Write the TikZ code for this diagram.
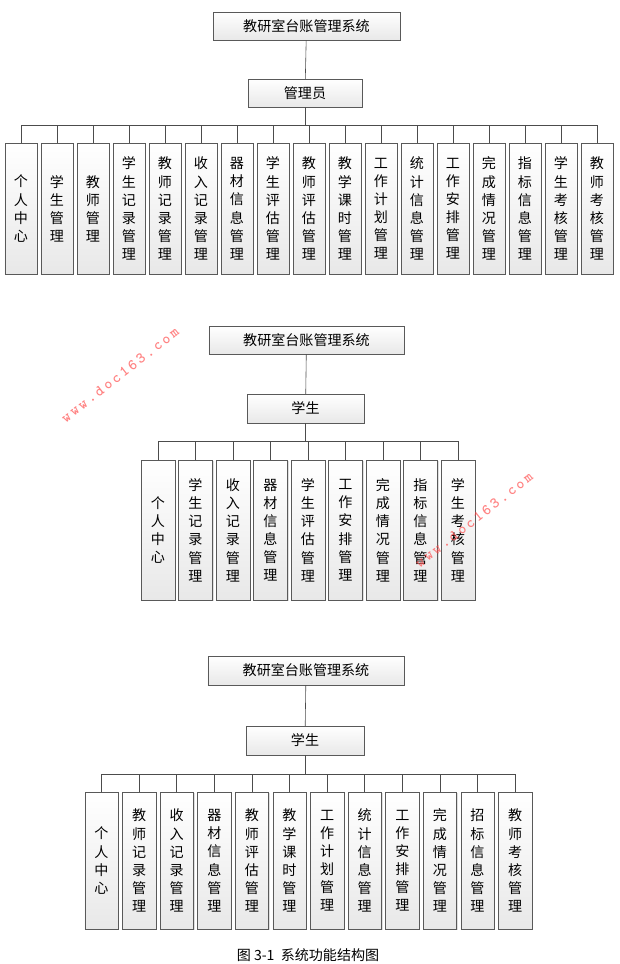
\documentclass[tikz,border=0pt]{standalone}
\usepackage{fontspec}
\setmainfont{Noto Sans CJK SC}
\usetikzlibrary{positioning}
\usetikzlibrary{shadows}

\tikzset{
  box/.style={draw=gray!70!black, top color=white, bottom color=gray!18, drop shadow={opacity=0.25,shadow xshift=1pt,shadow yshift=-1pt}, inner sep=0pt, font=\fontsize{12}{15.5}\selectfont},
  leaf/.style={box, minimum width=0.99cm, align=center, anchor=north},
  link/.style={draw=gray!60!black, line width=0.5pt},
  mark text/.style={red!75, opacity=0.65, rotate=38, font=\fontsize{13}{15}\ttfamily\bfseries}
}

\begin{document}
\begin{tikzpicture}[x=0.03cm,y=-0.03cm]
\useasboundingbox[fill=white] (0,0) rectangle (619,964);

% first tree
{
\node[box, minimum width=5.6cm, minimum height=0.84cm] (sys1) at (306.5,26) {教研室台账管理系统};
\node[box, minimum width=3.42cm, minimum height=0.84cm] (adm) at (305,93) {管理员};
\draw[link] (sys1) -- (adm);
\foreach \t [count=\i] in {个\\人\\中\\心, 学\\生\\管\\理, 教\\师\\管\\理, 学\\生\\记\\录\\管\\理, 教\\师\\记\\录\\管\\理, 收\\入\\记\\录\\管\\理, 器\\材\\信\\息\\管\\理, 学\\生\\评\\估\\管\\理, 教\\师\\评\\估\\管\\理, 教\\学\\课\\时\\管\\理, 工\\作\\计\\划\\管\\理, 统\\计\\信\\息\\管\\理, 工\\作\\安\\排\\管\\理, 完\\成\\情\\况\\管\\理, 指\\标\\信\\息\\管\\理, 学\\生\\考\\核\\管\\理, 教\\师\\考\\核\\管\\理}
{
  \node[leaf, minimum height=3.93cm, minimum width=0.96cm] (a\i) at ({21+36*(\i-1)},143) {\t};
  \draw[link] (a\i.north) -- ++(0,-18);
}
\draw[link] (adm.south) -- ++(0,18);
\draw[link] ([yshift=0.54cm]a1.north) -- ([yshift=0.54cm]a17.north);
}

% second tree
{
\node[box, minimum width=5.85cm, minimum height=0.84cm] (sys2) at (306.5,340) {教研室台账管理系统};
\node[box, minimum width=3.51cm, minimum height=0.87cm] (stu2) at (305.5,408.5) {学生};
\draw[link] (sys2) -- (stu2);
\foreach \t [count=\i] in {个\\人\\中\\心, 学\\生\\记\\录\\管\\理, 收\\入\\记\\录\\管\\理, 器\\材\\信\\息\\管\\理, 学\\生\\评\\估\\管\\理, 工\\作\\安\\排\\管\\理, 完\\成\\情\\况\\管\\理, 指\\标\\信\\息\\管\\理, 学\\生\\考\\核\\管\\理}
{
  \node[leaf, minimum height=4.2cm, minimum width=1.02cm] (b\i) at ({158+37.5*(\i-1)},460) {\t};
  \draw[link] (b\i.north) -- ++(0,-19);
}
\draw[link] (stu2.south) -- ++(0,18);
\draw[link] ([yshift=0.57cm]b1.north) -- ([yshift=0.57cm]b9.north);
}

% third tree
{
\node[box, minimum width=5.88cm, minimum height=0.87cm] (sys3) at (306,670.5) {教研室台账管理系统};
\node[box, minimum width=3.54cm, minimum height=0.87cm] (stu3) at (305,740.5) {学生};
\draw[link] (sys3) -- (stu3);
\foreach \t [count=\i] in {个\\人\\中\\心, 教\\师\\记\\录\\管\\理, 收\\入\\记\\录\\管\\理, 器\\材\\信\\息\\管\\理, 教\\师\\评\\估\\管\\理, 教\\学\\课\\时\\管\\理, 工\\作\\计\\划\\管\\理, 统\\计\\信\\息\\管\\理, 工\\作\\安\\排\\管\\理, 完\\成\\情\\况\\管\\理, 招\\标\\信\\息\\管\\理, 教\\师\\考\\核\\管\\理}
{
  \node[leaf, minimum height=4.11cm, minimum width=1.0cm] (c\i) at ({101.5+37.6*(\i-1)},792) {\t};
  \draw[link] (c\i.north) -- ++(0,-18);
}
\draw[link] (stu3.south) -- ++(0,19);
\draw[link] ([yshift=0.54cm]c1.north) -- ([yshift=0.54cm]c12.north);
}

\node[font=\fontsize{12}{14}\selectfont] (cap) at (308,955) {图 3-1\ \ 系统功能结构图};

% watermark
\node[mark text] (wm1) at (120,375) {w\,w\,w\,.\,d\,o\,c\,1\,6\,3\,.\,c\,o\,m};
\node[mark text] (wm2) at (474,520) {w\,w\,w\,.\,d\,o\,c\,1\,6\,3\,.\,c\,o\,m};
\end{tikzpicture}
\end{document}
